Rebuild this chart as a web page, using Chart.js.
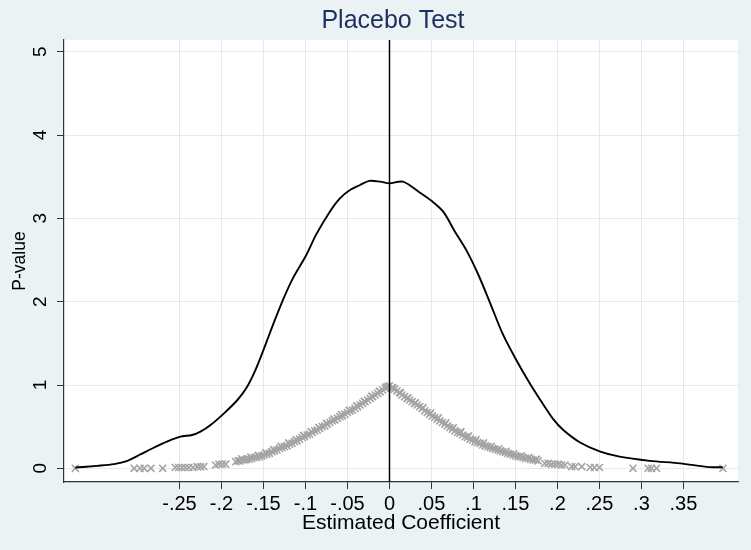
<!DOCTYPE html>
<html>
<head>
<meta charset="utf-8">
<script src="https://cdn.jsdelivr.net/npm/chart.js@4.4.1/dist/chart.umd.min.js"></script>
<style>
  html, body { margin: 0; padding: 0; background: #eaf2f3; }
  #wrap { width: 751px; height: 550px; position: relative; }
</style>
</head>
<body>
<div id="wrap"><canvas id="c" width="751" height="550"></canvas></div>
<script>
// ---- Data ----
const chartTitle = 'Placebo Test';
const xAxisTitle = 'Estimated Coefficient';
const yAxisTitle = 'P-value';

const xTicks = [-0.25, -0.2, -0.15, -0.1, -0.05, 0, 0.05, 0.1, 0.15, 0.2, 0.25, 0.3, 0.35];
const xTickLabels = ['-.25', '-.2', '-.15', '-.1', '-.05', '0', '.05', '.1', '.15', '.2', '.25', '.3', '.35'];
const yTicks = [0, 1, 2, 3, 4, 5];
const yTickLabels = ['0', '1', '2', '3', '4', '5'];

// kernel density of placebo coefficients (black line)
const densityX = [-0.374, -0.348, -0.328, -0.312, -0.296, -0.280, -0.265, -0.249, -0.235, -0.225, -0.213, -0.197,
  -0.181, -0.170, -0.160, -0.150, -0.138, -0.126, -0.115, -0.099, -0.087, -0.071, -0.059, -0.047, -0.035, -0.024,
  -0.011, 0.000, 0.016, 0.036, 0.050, 0.064, 0.078, 0.092, 0.106, 0.120, 0.135, 0.151, 0.167, 0.179, 0.195, 0.207,
  0.227, 0.251, 0.274, 0.310, 0.346, 0.381, 0.397];
const densityY = [0.01, 0.03, 0.05, 0.09, 0.17, 0.25, 0.32, 0.38, 0.40, 0.44, 0.52, 0.66,
  0.82, 0.97, 1.17, 1.42, 1.74, 2.04, 2.28, 2.56, 2.81, 3.08, 3.24, 3.34, 3.40, 3.45,
  3.44, 3.42, 3.44, 3.31, 3.21, 3.08, 2.84, 2.61, 2.32, 1.98, 1.61, 1.30, 1.02, 0.83, 0.59, 0.46,
  0.31, 0.20, 0.14, 0.09, 0.06, 0.015, 0.012];

// placebo estimates and their p-values (grey x markers)
const placeboCoef = [-0.374, -0.304, -0.297, -0.292, -0.284, -0.270,
  -0.255, -0.251, -0.247, -0.243, -0.239, -0.234, -0.229, -0.225, -0.221,
  -0.207, -0.203, -0.199, -0.195,
  -0.183, -0.180, -0.178, -0.175, -0.172, -0.170, -0.167, -0.164, -0.161, -0.158, -0.155, -0.152, -0.149, -0.146,
  -0.143, -0.140, -0.137, -0.134, -0.131, -0.128, -0.125, -0.122, -0.119, -0.116, -0.113, -0.110, -0.107, -0.104,
  -0.101, -0.098, -0.095, -0.092, -0.089, -0.086, -0.083, -0.080, -0.077, -0.074, -0.071, -0.068, -0.065, -0.062,
  -0.059, -0.056, -0.053, -0.050, -0.047, -0.044, -0.041, -0.038, -0.035, -0.032, -0.029, -0.026, -0.023, -0.020,
  -0.017, -0.014, -0.011, -0.008, -0.005, -0.002, 0.000,
  0.003, 0.006, 0.009, 0.012, 0.015, 0.018, 0.021, 0.024, 0.027, 0.030, 0.033, 0.036, 0.039, 0.042, 0.045, 0.048,
  0.051, 0.054, 0.057, 0.060, 0.063, 0.066, 0.069, 0.072, 0.075, 0.078, 0.081, 0.084, 0.087, 0.090, 0.093, 0.096,
  0.099, 0.102, 0.105, 0.108, 0.111, 0.114, 0.117, 0.120, 0.123, 0.126, 0.129, 0.132, 0.135, 0.138, 0.141, 0.144,
  0.147, 0.150, 0.153, 0.156, 0.159, 0.162, 0.165, 0.168, 0.171, 0.174, 0.177,
  0.185, 0.189, 0.193, 0.197, 0.201, 0.205, 0.209, 0.217, 0.221, 0.229, 0.239, 0.244, 0.250,
  0.290, 0.308, 0.312, 0.318, 0.397,
  // second, interleaved set of estimates in the dense band
  -0.176, -0.165, -0.156, -0.147, -0.138, -0.129, -0.120, -0.111, -0.102, -0.093, -0.084, -0.075, -0.066, -0.057,
  -0.048, -0.039, -0.030, -0.021, -0.012, -0.004,
  0.004, 0.013, 0.022, 0.031, 0.040, 0.049, 0.058, 0.067, 0.076, 0.085, 0.094, 0.103, 0.112, 0.121, 0.130, 0.139,
  0.148, 0.157, 0.166, 0.175];
const placeboP = [0.00, 0.00, 0.00, 0.00, 0.00, 0.00,
  0.01, 0.01, 0.01, 0.01, 0.01, 0.01, 0.02, 0.02, 0.02,
  0.04, 0.05, 0.05, 0.05,
  0.08, 0.09, 0.09, 0.10, 0.10, 0.11, 0.11, 0.12, 0.13, 0.13, 0.14, 0.15, 0.16, 0.17,
  0.18, 0.20, 0.21, 0.22, 0.24, 0.25, 0.26, 0.27, 0.29, 0.30, 0.32, 0.33, 0.35, 0.37,
  0.38, 0.40, 0.41, 0.43, 0.45, 0.46, 0.48, 0.50, 0.51, 0.53, 0.55, 0.57, 0.58, 0.60,
  0.62, 0.63, 0.65, 0.67, 0.69, 0.70, 0.72, 0.74, 0.76, 0.78, 0.80, 0.82, 0.84, 0.86,
  0.88, 0.90, 0.92, 0.94, 0.96, 0.98, 0.99,
  0.97, 0.95, 0.93, 0.91, 0.88, 0.86, 0.84, 0.82, 0.80, 0.78, 0.76, 0.74, 0.72, 0.69, 0.67, 0.65,
  0.63, 0.61, 0.59, 0.57, 0.55, 0.53, 0.51, 0.49, 0.47, 0.45, 0.43, 0.42, 0.40, 0.38, 0.37, 0.35,
  0.34, 0.32, 0.31, 0.30, 0.28, 0.27, 0.26, 0.25, 0.24, 0.23, 0.22, 0.21, 0.20, 0.19, 0.18, 0.17,
  0.16, 0.15, 0.14, 0.14, 0.13, 0.12, 0.12, 0.11, 0.10, 0.10, 0.09,
  0.06, 0.06, 0.05, 0.05, 0.05, 0.04, 0.04, 0.02, 0.02, 0.02, 0.01, 0.01, 0.01,
  0.00, 0.00, 0.00, 0.00, 0.00,
  0.115, 0.135, 0.155, 0.185, 0.225, 0.265, 0.305, 0.345, 0.395, 0.440, 0.490, 0.540, 0.590, 0.645,
  0.695, 0.750, 0.805, 0.865, 0.925, 0.975,
  0.965, 0.905, 0.845, 0.785, 0.725, 0.665, 0.605, 0.545, 0.490, 0.440, 0.390, 0.345, 0.305, 0.265, 0.235, 0.205,
  0.175, 0.150, 0.130, 0.110];

// ---- Chart ----
const FONT = "'Liberation Sans', Arial, Helvetica, sans-serif";
const densityPts = densityX.map((x, i) => ({ x: x, y: densityY[i] }));
const placeboPts = placeboCoef.map((x, i) => ({ x: x, y: placeboP[i] }));

const bgPlugin = {
  id: 'bg',
  beforeDraw(chart) {
    const ctx = chart.ctx, a = chart.chartArea;
    ctx.save();
    ctx.fillStyle = '#eaf2f3';
    ctx.fillRect(0, 0, chart.width, chart.height);
    ctx.fillStyle = '#ffffff';
    ctx.fillRect(a.left, a.top, a.right - a.left, a.bottom - a.top);
    ctx.restore();
  },
  afterDatasetsDraw(chart) {
    const ctx = chart.ctx, a = chart.chartArea;
    const xs = chart.scales.x;
    const px = Math.round(xs.getPixelForValue(0)) + 0.5;
    ctx.save();
    ctx.strokeStyle = '#000000';
    ctx.lineWidth = 1.5;
    ctx.beginPath();
    ctx.moveTo(px, a.top);
    ctx.lineTo(px, a.bottom);
    ctx.stroke();
    ctx.restore();
  },
  afterDraw(chart) {
    const ctx = chart.ctx;
    const ys = chart.scales.y;
    ctx.save();
    // chart title
    ctx.fillStyle = '#1c2f5e';
    ctx.font = '25px ' + FONT;
    ctx.textAlign = 'center';
    ctx.textBaseline = 'middle';
    ctx.fillText(chartTitle, 393, 21);
    // rotated y tick labels
    ctx.fillStyle = '#000000';
    ctx.font = '19px ' + FONT;
    yTicks.forEach((v, i) => {
      const py = ys.getPixelForValue(v);
      ctx.save();
      ctx.translate(41, py);
      ctx.rotate(-Math.PI / 2);
      ctx.fillText(yTickLabels[i], 0, 0);
      ctx.restore();
    });
    ctx.restore();
  }
};

new Chart(document.getElementById('c'), {
  type: 'scatter',
  data: {
    datasets: [
      {
        type: 'line',
        label: 'density',
        data: densityPts,
        borderColor: '#000000',
        borderWidth: 1.9,
        pointRadius: 0,
        fill: false,
        tension: 0.3,
        order: 1
      },
      {
        type: 'scatter',
        label: 'p-value',
        data: placeboPts,
        pointStyle: 'crossRot',
        pointRadius: 5,
        borderColor: '#a4a4a4',
        backgroundColor: '#a4a4a4',
        borderWidth: 1.6,
        order: 2
      }
    ]
  },
  options: {
    responsive: false,
    animation: false,
    layout: { padding: { left: 0, right: 13, top: 40, bottom: 0 } },
    plugins: {
      legend: { display: false },
      tooltip: { enabled: false },
      title: { display: false }
    },
    scales: {
      x: {
        type: 'linear',
        min: -0.3875,
        max: 0.415,
        afterBuildTicks(scale) { scale.ticks = xTicks.map(v => ({ value: v })); },
        afterFit(scale) { scale.height = 68; },
        ticks: {
          autoSkip: false,
          maxRotation: 0,
          minRotation: 0,
          padding: 3,
          color: '#000000',
          font: { family: FONT, size: 20 },
          callback: (v, i) => xTickLabels[i]
        },
        grid: { color: '#e0ebef', lineWidth: 1, drawTicks: true, tickLength: 7, tickColor: '#333333' },
        border: { display: true, color: '#333333', width: 1.2 },
        title: {
          display: true,
          text: xAxisTitle,
          color: '#000000',
          font: { family: FONT, size: 21 },
          padding: { top: 0, bottom: 14 }
        }
      },
      y: {
        type: 'linear',
        min: -0.164,
        max: 5.14,
        afterBuildTicks(scale) { scale.ticks = yTicks.map(v => ({ value: v })); },
        afterFit(scale) { scale.width = 64; },
        ticks: { display: false },
        grid: { color: '#e0ebef', lineWidth: 1, drawTicks: true, tickLength: 7, tickColor: '#333333' },
        border: { display: true, color: '#333333', width: 1.2 },
        title: {
          display: true,
          text: yAxisTitle,
          color: '#000000',
          font: { family: FONT, size: 17.5 },
          padding: { top: 10, bottom: 0 }
        }
      }
    }
  },
  plugins: [bgPlugin]
});
</script>
</body>
</html>
